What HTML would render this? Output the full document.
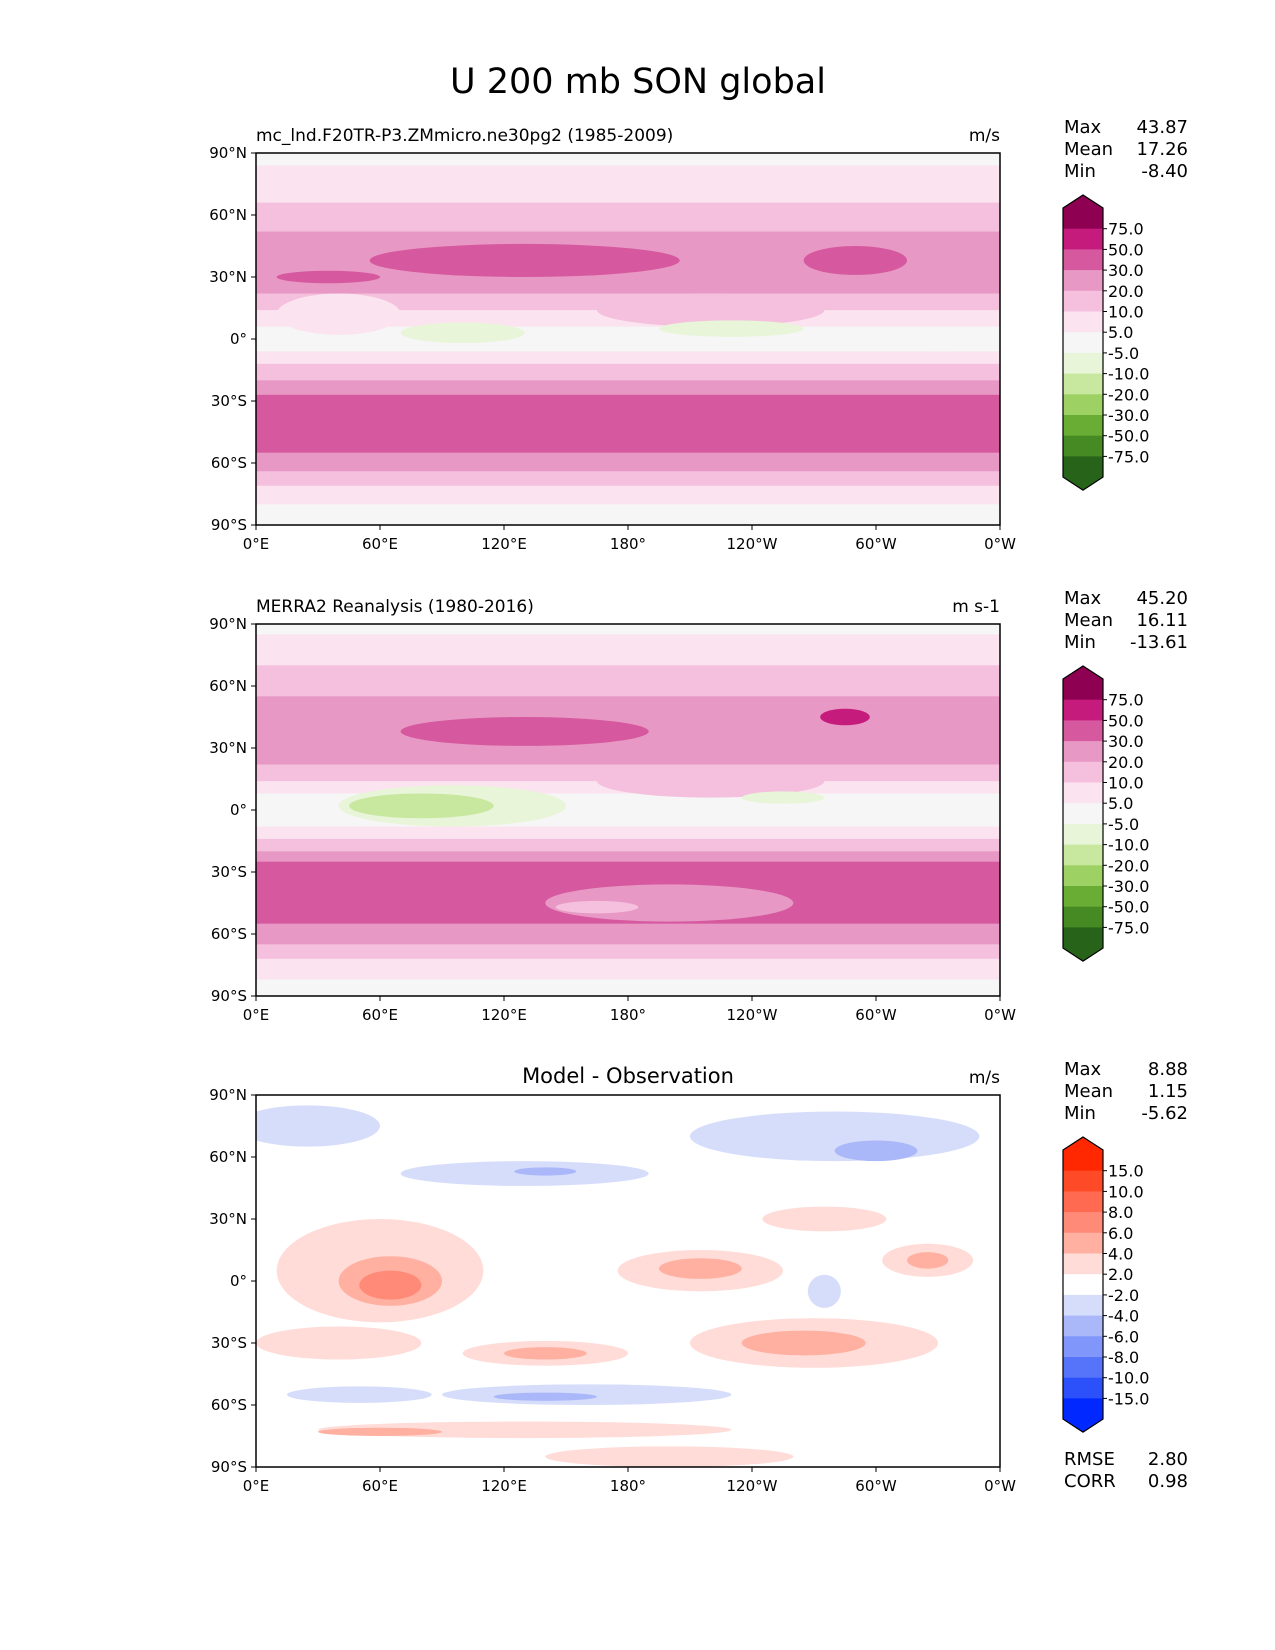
<!DOCTYPE html>
<html><head><meta charset="utf-8"><style>
body{margin:0;background:#fff;}
svg{display:block;font-family:"DejaVu Sans","Liberation Sans",sans-serif;}
</style></head><body>
<svg id="fig" width="1275" height="1650" viewBox="0 0 1275 1650" xmlns="http://www.w3.org/2000/svg">
<text x="638" y="93" font-size="35" text-anchor="middle">U 200 mb SON global</text>
</svg>
<script>
const piyg=["#8e0152","#c51b7d","#d6589f","#e898c4","#f4c0de","#fbe3ef","#f6f6f6","#e8f5d9","#c8e8a0","#9dd163","#6aad35","#458a22","#276419"];
const rdbu=["#ff2800","#ff4a28","#ff6a50","#ff8a78","#ffb0a0","#ffdcd8","#ffffff","#d6ddfa","#aab8fa","#8096fa","#5574fa","#2c50fa","#0028ff"];
const piygLevels=["75.0","50.0","30.0","20.0","10.0","5.0","-5.0","-10.0","-20.0","-30.0","-50.0","-75.0"];
const diffLevels=["15.0","10.0","8.0","6.0","4.0","2.0","-2.0","-4.0","-6.0","-8.0","-10.0","-15.0"];
const lonTicks=[0,60,120,180,240,300,360];
const lonLabels=["0°E","60°E","120°E","180°","120°W","60°W","0°W"];
const latTicks=[90,60,30,0,-30,-60,-90];
const latLabels=["90°N","60°N","30°N","0°","30°S","60°S","90°S"];
// bands: [latTop, latBottom, colorIndex]
const bands1=[[90,84,6],[84,66,5],[66,52,4],[52,22,3],[22,14,4],[14,6,5],[6,-6,6],[-6,-12,5],[-12,-20,4],[-20,-27,3],[-27,-55,2],[-55,-64,3],[-64,-71,4],[-71,-80,5],[-80,-90,6]];
// blobs: [lon, lat, rlon, rlat, colorIndex]
const blobs1=[[220,14,55,8,4],[40,12,30,10,5],[130,38,75,8,2],[35,30,25,3,2],[290,38,25,7,2],[100,3,30,5,7],[230,5,35,4,7],[330,-2,20,4,6]];
const bands2=[[90,85,6],[85,70,5],[70,55,4],[55,22,3],[22,14,4],[14,8,5],[8,-8,6],[-8,-14,5],[-14,-20,4],[-20,-25,3],[-25,-55,2],[-55,-65,3],[-65,-72,4],[-72,-82,5],[-82,-90,6]];
const blobs2=[[220,14,55,8,4],[130,38,60,7,2],[285,45,12,4,1],[95,2,55,10,7],[80,2,35,6,8],[255,6,20,3,7],[200,-45,60,9,3],[165,-47,20,3,4]];
const bands3=[[90,-90,6]];
const blobs3=[[25,75,35,10,7],[280,70,70,12,7],[300,63,20,5,8],[130,52,60,6,7],[140,53,15,2,8],
[60,5,50,25,5],[65,0,25,12,4],[65,-2,15,7,3],[215,5,40,10,5],[215,6,20,5,4],[275,30,30,6,5],[325,10,22,8,5],[325,10,10,4,4],
[40,-30,40,8,5],[140,-35,40,6,5],[140,-35,20,3,4],[270,-30,60,12,5],[265,-30,30,6,4],
[50,-55,35,4,7],[160,-55,70,5,7],[140,-56,25,2,8],[130,-72,100,4,5],[60,-73,30,2,4],[200,-85,60,5,5],[275,-5,8,8,7]];
const panels=[
 {top:153,bands:bands1,blobs:blobs1,pal:piyg,levels:piygLevels,left:"mc_lnd.F20TR-P3.ZMmicro.ne30pg2 (1985-2009)",units:"m/s",stats:[["Max","43.87"],["Mean","17.26"],["Min","-8.40"]]},
 {top:624,bands:bands2,blobs:blobs2,pal:piyg,levels:piygLevels,left:"MERRA2 Reanalysis (1980-2016)",units:"m s-1",stats:[["Max","45.20"],["Mean","16.11"],["Min","-13.61"]]},
 {top:1095,bands:bands3,blobs:blobs3,pal:rdbu,levels:diffLevels,center:"Model - Observation",units:"m/s",stats:[["Max","8.88"],["Mean","1.15"],["Min","-5.62"]],extra:[["RMSE","2.80"],["CORR","0.98"]]}
];
const NS="http://www.w3.org/2000/svg";
const svg=document.getElementById('fig');
function mk(tag,attrs,parent){const e=document.createElementNS(NS,tag);for(const k in attrs)e.setAttribute(k,attrs[k]);(parent||svg).appendChild(e);return e;}
const AX=256,AW=744,AH=372;
panels.forEach((p,pi)=>{
 const g=mk('g',{});
 
 
 const X=lon=>AX+lon*AW/360, Y=lat=>p.top+(90-lat)*AH/180;
 const clip=mk('clipPath',{id:'c'+pi},g);
 mk('rect',{x:AX,y:p.top,width:AW,height:AH},clip);
 const f=mk('g',{'clip-path':'url(#c'+pi+')'},g);
 p.bands.forEach(b=>{
  const r=mk('rect',{x:AX,y:Y(b[0]),width:AW,height:Y(b[1])-Y(b[0])+0.5,fill:p.pal[b[2]]},f);
  
  
 });
 p.blobs.forEach(b=>{
  const e=mk('ellipse',{cx:X(b[0]),cy:Y(b[1]),rx:b[2]*AW/360,ry:b[3]*AH/180,fill:p.pal[b[4]]},f);
  
  
 });
 mk('rect',{x:AX,y:p.top,width:AW,height:AH,fill:'none',stroke:'#000','stroke-width':1.5},g);
 lonTicks.forEach((l,i)=>{
  mk('line',{x1:X(l),x2:X(l),y1:p.top+AH,y2:p.top+AH+5,stroke:'#000'},g);
  const t=mk('text',{x:X(l),y:p.top+AH+24,'font-size':15,'text-anchor':'middle'},g);t.textContent=lonLabels[i];
  
  
 });
 latTicks.forEach((l,i)=>{
  mk('line',{x1:AX-5,x2:AX,y1:Y(l),y2:Y(l),stroke:'#000'},g);
  const t=mk('text',{x:AX-9,y:Y(l)+5,'font-size':15,'text-anchor':'end'},g);t.textContent=latLabels[i];
  
  
 });
 if(p.left){const t=mk('text',{x:AX,y:p.top-12,'font-size':17},g);t.textContent=p.left;
  
  }
 if(p.center){const t=mk('text',{x:AX+AW/2,y:p.top-12,'font-size':21,'text-anchor':'middle'},g);t.textContent=p.center;
  
  }
 const u=mk('text',{x:AX+AW,y:p.top-12,'font-size':17,'text-anchor':'end'},g);u.textContent=p.units;
 
 
 p.stats.forEach((s,i)=>{
  const a=mk('text',{x:1064,y:p.top-20+i*22,'font-size':18},g);a.textContent=s[0];
  
  
  const b=mk('text',{x:1188,y:p.top-20+i*22,'font-size':18,'text-anchor':'end'},g);b.textContent=s[1];
  
  
 });
 if(p.extra)p.extra.forEach((s,i)=>{
  const a=mk('text',{x:1064,y:p.top+370+i*22,'font-size':18},g);a.textContent=s[0];
  
  
  const b=mk('text',{x:1188,y:p.top+370+i*22,'font-size':18,'text-anchor':'end'},g);b.textContent=s[1];
  
  
 });
 const cb=mk('g',{},g);
 
 
 const cx0=1063,cw=40,ct=p.top+55,bh=20.7,n=p.pal.length;
 mk('polygon',{points:`${cx0},${ct} ${cx0+cw/2},${ct-13} ${cx0+cw},${ct}`,fill:p.pal[0]},cb);
 mk('polygon',{points:`${cx0},${ct+n*bh} ${cx0+cw/2},${ct+n*bh+13} ${cx0+cw},${ct+n*bh}`,fill:p.pal[n-1]},cb);
 p.pal.forEach((c,i)=>mk('rect',{x:cx0,y:ct+i*bh,width:cw,height:bh+0.5,fill:c},cb));
 mk('polygon',{points:`${cx0},${ct} ${cx0+cw/2},${ct-13} ${cx0+cw},${ct} ${cx0+cw},${ct+n*bh} ${cx0+cw/2},${ct+n*bh+13} ${cx0},${ct+n*bh}`,fill:'none',stroke:'#000','stroke-width':1.2},cb);
 p.levels.forEach((l,i)=>{
  const yy=ct+(i+1)*bh;
  mk('line',{x1:cx0+cw,x2:cx0+cw+4,y1:yy,y2:yy,stroke:'#000'},cb);
  const t=mk('text',{x:cx0+cw+5,y:yy+6,'font-size':16},cb);t.textContent=l;
  
  
 });
});
</script>
</body></html>
